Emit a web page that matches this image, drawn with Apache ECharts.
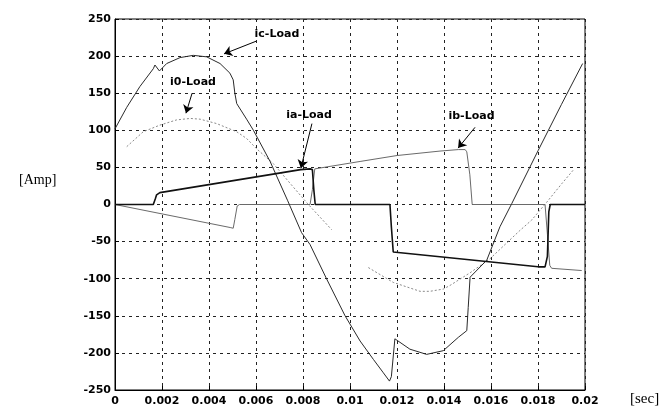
<!DOCTYPE html>
<html>
<head>
<meta charset="utf-8">
<script src="https://cdn.jsdelivr.net/npm/echarts@6/dist/echarts.min.js"></script>
<style>
  html, body { margin: 0; padding: 0; background: #fff; }
  #chart { width: 664px; height: 414px; }
</style>
</head>
<body>
<div id="chart"></div>
<script>
// Load currents over one 50 Hz cycle. Time in milliseconds, current in amperes.
const icTime = [0, 0.5, 1.06, 1.63, 1.70, 1.89, 2.2, 2.77, 3.33, 3.9, 4.47, 4.89, 5.03, 5.10, 5.18, 5.6, 5.89, 6.6, 7.35, 7.94, 8.3, 9.0, 9.79, 10.43, 11.0, 11.4, 11.68, 11.76, 11.91, 12.55, 13.26, 13.97, 14.61, 14.97, 15.03, 15.11, 15.18, 15.82, 16.38, 16.88, 18.01, 19.0, 19.9];
const icAmp  = [102, 131, 159, 183, 188, 180, 190, 198, 201, 199, 190, 177, 168, 150, 136, 115, 100, 58, 5, -38, -54, -100, -150, -184, -209, -226, -238, -232, -181, -195, -202, -197, -179, -170, -139, -98, -96, -75, -30, 1, 73, 135, 190];

const iaTime = [0, 1.63, 1.72, 1.77, 1.91, 7.9, 8.3, 8.4, 8.46, 8.52, 11.7, 11.76, 11.84, 18.0, 18.3, 18.4, 18.46, 18.52, 20];
const iaAmp  = [0, 0, 8, 13, 16, 47, 48, 47, 20, 0, 0, -30, -64, -84, -84, -70, -10, 0, 0];

const ibTime = [0, 4.9, 5.03, 5.1, 5.2, 5.3, 8.3, 8.4, 8.5, 10.43, 12.0, 13.83, 14.61, 14.9, 14.97, 15.1, 15.2, 18.3, 18.4, 18.5, 18.58, 19.86];
const ibAmp  = [0, -31, -32, -20, -2, 0, 0, 20, 48, 58, 66, 72, 74, 74, 71, 40, 0, 0, -40, -82, -86, -89];

// Neutral current, drawn in two separate pieces
const i0FirstTime  = [0.5, 1.2, 1.91, 2.62, 3.2, 3.62, 4.33, 5.18, 5.6, 6.03, 6.74, 7.52, 8.2, 9.22];
const i0FirstAmp   = [78, 98, 107, 114, 116, 115, 109, 98, 89, 75, 55, 26, 1, -34];
const i0SecondTime = [10.78, 11.84, 12.98, 13.4, 13.97, 14.26, 15.11, 15.96, 17.23, 17.73, 18.37, 19.01, 19.49];
const i0SecondAmp  = [-85, -105, -117, -117, -114, -109, -92, -73, -35, -21, 3, 28, 46];

const xTickLabels = ['0', '0.002', '0.004', '0.006', '0.008', '0.01', '0.012', '0.014', '0.016', '0.018', '0.02'];
const yTickLabels = ['-250', '-200', '-150', '-100', '-50', '0', '50', '100', '150', '200', '250'];

// Callout labels: text position and arrow from/to, in (seconds, amperes)
const calloutNames = ['ic-Load', 'i0-Load', 'ia-Load', 'ib-Load'];
const calloutText  = [[0.00689, 230], [0.00332, 165], [0.00826, 120], [0.01517, 119]];
const arrowFrom    = [[0.0060, 220], [0.00328, 150], [0.00838, 109], [0.01532, 104]];
const arrowTo      = [[0.00464, 203], [0.00302, 123], [0.00791, 49], [0.0146, 76]];

function pairs(times, amps) {
  return times.map((t, i) => [t / 1000, amps[i]]);
}

const labelFont = { fontFamily: 'DejaVu Sans', fontWeight: 'bold', fontSize: 11, color: '#000' };

const chart = echarts.init(document.getElementById('chart'), null, { renderer: 'canvas' });

chart.setOption({
  animation: false,
  backgroundColor: '#fff',
  grid: {
    left: 115, right: 79, top: 19, bottom: 24,
    show: true, borderColor: '#000', borderWidth: 1, backgroundColor: 'transparent'
  },
  xAxis: {
    type: 'value', min: 0, max: 0.02, interval: 0.002,
    axisLine: { show: true, onZero: false, lineStyle: { color: '#000', width: 1 } },
    axisTick: { show: true, inside: true, length: 4, lineStyle: { color: '#000' } },
    splitLine: { show: true, lineStyle: { color: '#222', width: 1, type: [3, 4] } },
    axisLabel: Object.assign({ margin: 6, formatter: v => xTickLabels[Math.round(v / 0.002)] }, labelFont)
  },
  yAxis: {
    type: 'value', min: -250, max: 250, interval: 50,
    axisLine: { show: true, lineStyle: { color: '#000', width: 1 } },
    axisTick: { show: true, inside: true, length: 4, lineStyle: { color: '#000' } },
    splitLine: { show: true, lineStyle: { color: '#222', width: 1, type: [3, 4] } },
    axisLabel: Object.assign({ margin: 4, formatter: v => yTickLabels[Math.round((v + 250) / 50)] }, labelFont)
  },
  graphic: [
    { type: 'text', left: 19, top: 173, style: { text: '[Amp]', font: '14px "Liberation Serif"', fill: '#000' } },
    { type: 'text', left: 630, top: 392, style: { text: '[sec]', font: '15px "Liberation Serif"', fill: '#000' } }
  ],
  series: [
    {
      name: 'i0-Load', type: 'line', showSymbol: false, symbol: 'none',
      data: pairs(i0FirstTime, i0FirstAmp),
      lineStyle: { color: '#8a8a8a', width: 1, type: [2, 2] }
    },
    {
      name: 'i0-Load', type: 'line', showSymbol: false, symbol: 'none',
      data: pairs(i0SecondTime, i0SecondAmp),
      lineStyle: { color: '#8a8a8a', width: 1, type: [2, 2] }
    },
    {
      name: 'ib-Load', type: 'line', showSymbol: false, symbol: 'none',
      data: pairs(ibTime, ibAmp),
      lineStyle: { color: '#6a6a6a', width: 1 }
    },
    {
      name: 'ic-Load', type: 'line', showSymbol: false, symbol: 'none',
      data: pairs(icTime, icAmp),
      lineStyle: { color: '#2a2a2a', width: 1 }
    },
    {
      name: 'ia-Load', type: 'line', showSymbol: false, symbol: 'none',
      data: pairs(iaTime, iaAmp),
      lineStyle: { color: '#111', width: 1.6 },
      markLine: {
        silent: true, animation: false,
        symbol: ['none', 'arrow'], symbolSize: 8,
        label: { show: false },
        lineStyle: { color: '#000', type: 'solid', width: 1 },
        emphasis: { disabled: true },
        data: arrowFrom.map((p, i) => [{ coord: p }, { coord: arrowTo[i] }])
      },
      markPoint: {
        silent: true, animation: false,
        symbol: 'circle', symbolSize: 1,
        itemStyle: { color: 'rgba(0,0,0,0)' },
        label: Object.assign({ show: true, position: 'inside' }, labelFont),
        data: calloutNames.map((n, i) => ({ coord: calloutText[i], value: n, label: { formatter: n } }))
      }
    }
  ]
});
</script>
</body>
</html>
